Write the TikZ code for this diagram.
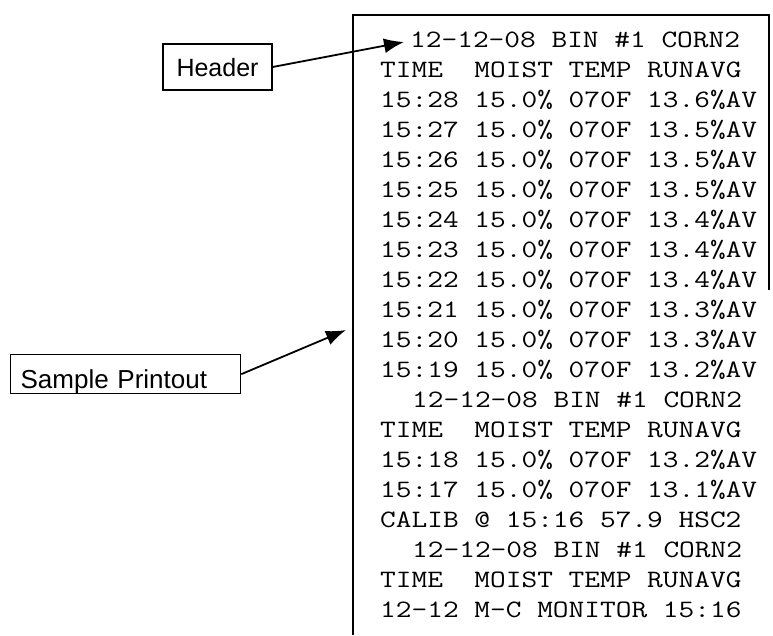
\documentclass[tikz,border=0pt]{standalone}
\usepackage{graphicx}
\usepackage{fontspec}
\newfontfamily\labfont{Liberation Sans}
\usetikzlibrary{arrows.meta}
\newcommand\prtxt[1]{\scalebox{1.22}[1]{#1}}
\begin{document}
\begin{tikzpicture}[x=1pt,y=-1pt,
  lab/.style={draw, line width=1.3pt, inner ysep=0pt},
  prt/.style={anchor=base west, inner sep=0pt, font=\ttfamily\fontsize{25}{30}\selectfont},
  conn/.style={line width=1.8pt, -{Latex[length=20pt,width=15pt]}},
  frame/.style={line width=1.6pt}]
\useasboundingbox (0,0) rectangle (773,635);
% printout frame
\draw[frame] (353,635) -- (353,15) -- (769,15) -- (769,290);
% labels
\node[lab, font=\labfont\fontsize{25}{30}\selectfont, text height=32pt, text depth=14pt,
      minimum width=109pt, inner xsep=0pt] (hdr) at (217.5,67) {Header};
\node[lab, font=\labfont\fontsize{26}{30}\selectfont, text height=34pt, text depth=5pt,
      text width=210pt, align=left, inner xsep=10pt, anchor=north west] (smp) at (10,354) {Sample Printout};
\coordinate (tip1) at (404,42);
\coordinate (tip2) at (346,330);
\draw[conn] (hdr.east) -- (tip1);
\draw[conn] (smp.east) -- (tip2);
% printout lines
\node[prt] (l0) at (410,47.5) {\prtxt{12-12-08 BIN \#1 CORN2}};
\node[prt] (l1) at (380,77.5) {\prtxt{TIME\ \ MOIST TEMP RUNAVG}};
\node[prt] (l2) at (380,107.5) {\prtxt{15:28 15.0\% 070F 13.6\%AV}};
\node[prt] (l3) at (380,137.5) {\prtxt{15:27 15.0\% 070F 13.5\%AV}};
\node[prt] (l4) at (380,167.5) {\prtxt{15:26 15.0\% 070F 13.5\%AV}};
\node[prt] (l5) at (380,197.5) {\prtxt{15:25 15.0\% 070F 13.5\%AV}};
\node[prt] (l6) at (380,227.5) {\prtxt{15:24 15.0\% 070F 13.4\%AV}};
\node[prt] (l7) at (380,257.5) {\prtxt{15:23 15.0\% 070F 13.4\%AV}};
\node[prt] (l8) at (380,287.5) {\prtxt{15:22 15.0\% 070F 13.4\%AV}};
\node[prt] (l9) at (380,317.5) {\prtxt{15:21 15.0\% 070F 13.3\%AV}};
\node[prt] (l10) at (380,347.5) {\prtxt{15:20 15.0\% 070F 13.3\%AV}};
\node[prt] (l11) at (380,377.5) {\prtxt{15:19 15.0\% 070F 13.2\%AV}};
\node[prt] (l12) at (412,407.5) {\prtxt{12-12-08 BIN \#1 CORN2}};
\node[prt] (l13) at (380,437.5) {\prtxt{TIME\ \ MOIST TEMP RUNAVG}};
\node[prt] (l14) at (380,467.5) {\prtxt{15:18 15.0\% 070F 13.2\%AV}};
\node[prt] (l15) at (380,497.5) {\prtxt{15:17 15.0\% 070F 13.1\%AV}};
\node[prt] (l16) at (380,527.5) {\prtxt{CALIB @ 15:16 57.9 HSC2}};
\node[prt] (l17) at (412,557.5) {\prtxt{12-12-08 BIN \#1 CORN2}};
\node[prt] (l18) at (380,587.5) {\prtxt{TIME\ \ MOIST TEMP RUNAVG}};
\node[prt] (l19) at (380,617.5) {\prtxt{12-12 M-C MONITOR 15:16}};
\end{tikzpicture}
\end{document}
